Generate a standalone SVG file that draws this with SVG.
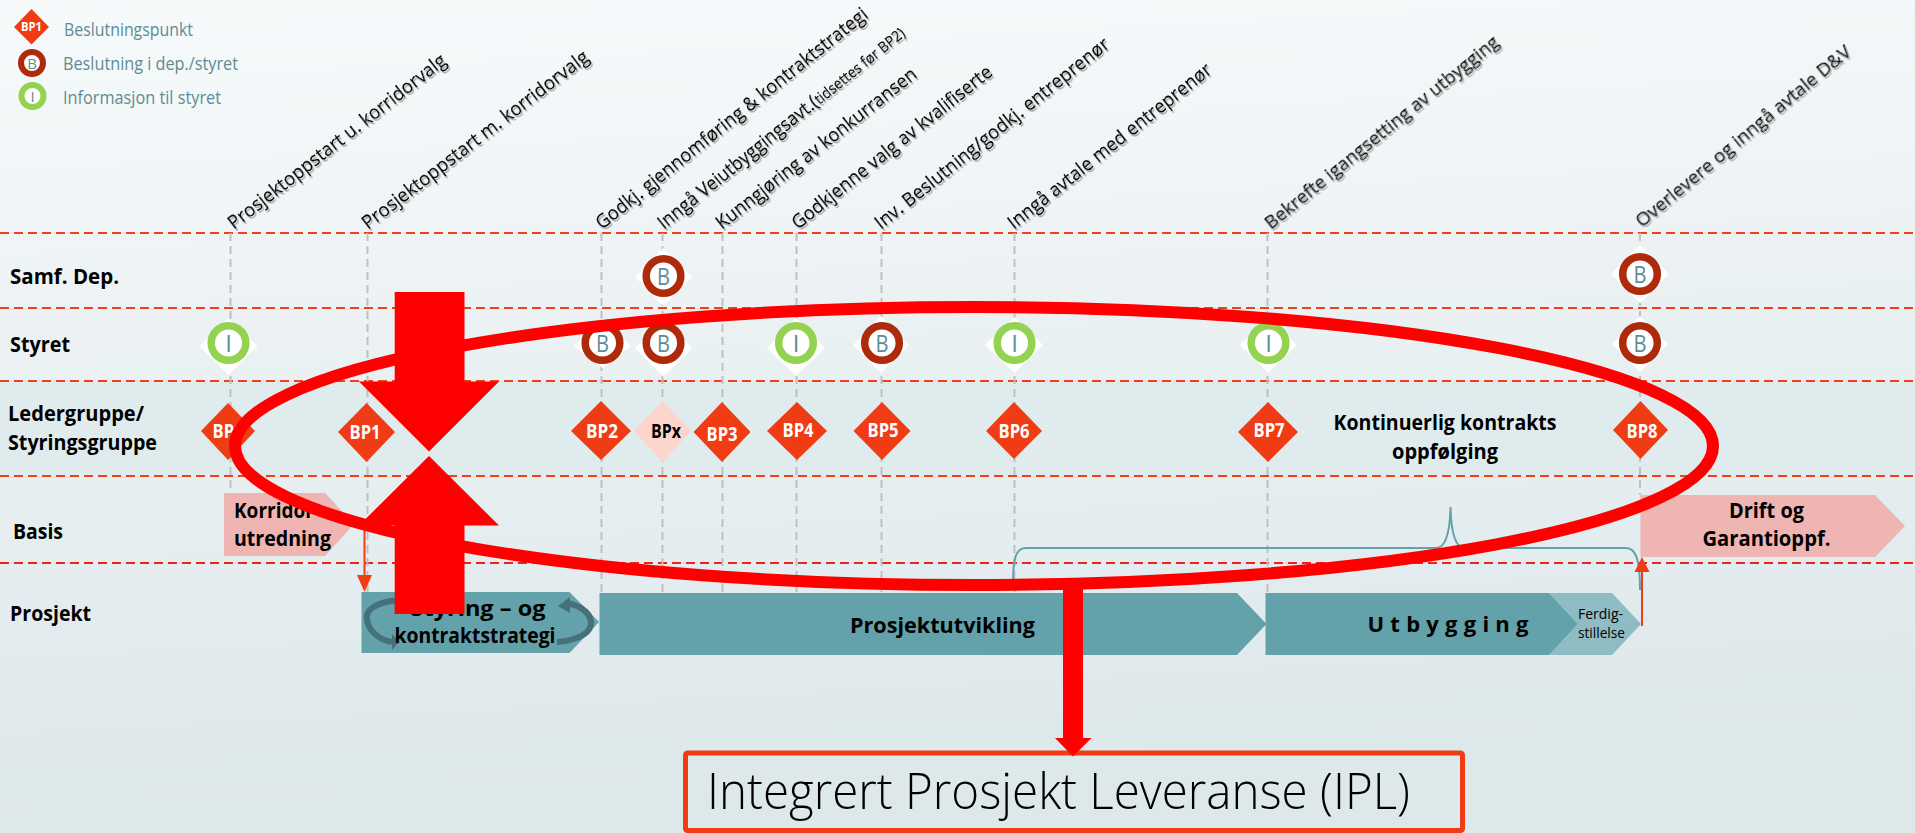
<svg xmlns="http://www.w3.org/2000/svg" width="1915" height="833" viewBox="0 0 1915 833">
<style>
text{font-family:"Open Sans","Noto Sans","Liberation Sans",sans-serif}
.leg{font-size:18px;fill:#5f8c94}
.row{font-size:21px;font-weight:700;fill:#000}
.head{font-size:19px;fill:#000;stroke:#000;stroke-width:0.2}
.bp{font-size:19px;font-weight:700;fill:#fff;text-anchor:middle}
.dia{fill:#f03c14}
.wd{fill:#fff}
.rb{fill:#fff;stroke:#ad2a0a;stroke-width:7.5}
.ri{fill:#fff;stroke:#94d251;stroke-width:7.5}
.ct{font-size:24px;fill:#5f8c94;text-anchor:middle}
.lab{font-size:22px;font-weight:700;fill:#000;text-anchor:middle}
.pink{fill:#eeb5b2}
.teal{fill:#63a2aa}
.h{stroke:#f0401a;stroke-width:2;stroke-dasharray:9 5;fill:none}
.v{stroke:#c0c0c0;stroke-width:2;stroke-dasharray:8 5;fill:none}
.red{fill:#ff0000}
</style>
<defs>
<linearGradient id="bg" x1="0" y1="0" x2="0.12" y2="1">
<stop offset="0" stop-color="#f6fafb"/><stop offset="0.3" stop-color="#eff4f6"/><stop offset="0.6" stop-color="#e6eef0"/><stop offset="1" stop-color="#dde8ea"/>
</linearGradient>
<filter id="sh" x="-2%" y="-5%" width="104%" height="110%"><feDropShadow dx="1.5" dy="2" stdDeviation="0.4" flood-color="#aaa"/></filter>
</defs>
<rect width="1915" height="833" fill="url(#bg)"/>
<rect x="0" y="381" width="1915" height="95" fill="#dfebed"/>

<g id="connectors">
<path class="h" d="M0,233H1915M0,308H1915M0,381H1915M0,476H1915"/>
<path class="h" d="M0,563H1915" style="stroke:#f0201a"/>
<path class="v" d="M230.500,233V493M367.500,233V592M601.500,233V593M662.500,233V593M722.500,233V593M796.500,233V593M881.500,233V593M1014.500,233V593M1267.500,233V593M1640,233V495"/>
<path d="M1013,585C1013,560 1015,548 1026,548L1436,548C1446,548 1450,530 1450.500,507C1451,530 1455,548 1465,548L1626,548C1636,548 1640,560 1640,590" fill="none" stroke="#63a2aa" stroke-width="2"/>
</g>

<g id="legend">
<polygon class="dia" points="31.500,9 49,27 31.500,44.500 14,27"/>
<text x="31.500" y="31" class="bp" style="font-size:12px" textLength="21" lengthAdjust="spacingAndGlyphs">BP1</text>
<text x="64" y="36" class="leg" textLength="129" lengthAdjust="spacingAndGlyphs">Beslutningspunkt</text>
<circle cx="32" cy="63" r="11" fill="#fff" stroke="#ad2a0a" stroke-width="6"/>
<text x="32" y="68.500" class="ct" style="font-size:15px">B</text>
<text x="63" y="70" class="leg" textLength="175" lengthAdjust="spacingAndGlyphs">Beslutning i dep./styret</text>
<circle cx="32.500" cy="96" r="11" fill="#fff" stroke="#94d251" stroke-width="6"/>
<text x="32.500" y="101.500" class="ct" style="font-size:15px">I</text>
<text x="63" y="104" class="leg" textLength="158" lengthAdjust="spacingAndGlyphs">Informasjon til styret</text>
</g>

<g id="headers" filter="url(#sh)">
<text class="head" transform="translate(234,230) rotate(-38)" textLength="271" lengthAdjust="spacingAndGlyphs">Prosjektoppstart u. korridorvalg</text>
<text class="head" transform="translate(368,230) rotate(-37.500)" textLength="280" lengthAdjust="spacingAndGlyphs">Prosjektoppstart m. korridorvalg</text>
<text class="head" transform="translate(602,230) rotate(-38.600)" textLength="342" lengthAdjust="spacingAndGlyphs">Godkj. gjennomføring &amp; kontraktstrategi</text>
<text class="head" transform="translate(664,230) rotate(-38.800) scale(0.93,1)">Inngå Veiutbyggingsavt.(<tspan style="font-size:15px">tidsettes før BP2)</tspan></text>
<text class="head" transform="translate(722,230) rotate(-38)" textLength="249" lengthAdjust="spacingAndGlyphs">Kunngjøring av konkurransen</text>
<text class="head" transform="translate(798,230) rotate(-38.500)" textLength="250" lengthAdjust="spacingAndGlyphs">Godkjenne valg av kvalifiserte</text>
<text class="head" transform="translate(881,230) rotate(-38.600)" textLength="294" lengthAdjust="spacingAndGlyphs">Inv. Beslutning/godkj. entreprenør</text>
<text class="head" transform="translate(1014,230) rotate(-38.400)" textLength="254" lengthAdjust="spacingAndGlyphs">Inngå avtale med entreprenør</text>
<text class="head" transform="translate(1271,230) rotate(-39)" textLength="295" lengthAdjust="spacingAndGlyphs">Bekrefte igangsetting av utbygging</text>
<text class="head" transform="translate(1642,228) rotate(-39.600)" textLength="273" lengthAdjust="spacingAndGlyphs">Overlevere og inngå avtale D&amp;V</text>
</g>

<g id="rows">
<text class="row" x="10" y="284" textLength="109" lengthAdjust="spacingAndGlyphs">Samf. Dep.</text>
<text class="row" x="10" y="352" textLength="60" lengthAdjust="spacingAndGlyphs">Styret</text>
<text class="row" x="8" y="421" textLength="136" lengthAdjust="spacingAndGlyphs">Ledergruppe/</text>
<text class="row" x="8" y="450" textLength="149" lengthAdjust="spacingAndGlyphs">Styringsgruppe</text>
<text class="row" x="13" y="539" textLength="50" lengthAdjust="spacingAndGlyphs">Basis</text>
<text class="row" x="10" y="621" textLength="81" lengthAdjust="spacingAndGlyphs">Prosjekt</text>
</g>

<g id="n-samf-b1"><polygon class="wd" points="663.500,248 692,277 663.500,306 635,277"/><circle class="rb" cx="663.500" cy="276" r="17.300"/><text class="ct" x="663.500" y="285" textLength="13" lengthAdjust="spacingAndGlyphs">B</text></g>
<g id="n-samf-b2"><polygon class="wd" points="1640,245 1669,274 1640,303 1611,274"/><circle class="rb" cx="1640" cy="274" r="17.300"/><text class="ct" x="1640" y="283" textLength="13" lengthAdjust="spacingAndGlyphs">B</text></g>

<g id="n-sty-i0"><polygon class="wd" points="228.500,318 257.500,346 228.500,375 199.500,346"/><circle class="ri" cx="228.500" cy="343" r="17.300"/><text class="ct" x="228.500" y="352">I</text></g>
<g id="n-sty-b2"><polygon class="wd" points="602.500,318 631,346 602.500,368 574,346"/><circle class="rb" cx="602.500" cy="343" r="17.300"/><text class="ct" x="602.500" y="352" textLength="13" lengthAdjust="spacingAndGlyphs">B</text></g>
<g id="n-sty-bx"><polygon class="wd" points="663.500,318 692,348 663.500,377 635,348"/><circle class="rb" cx="663.500" cy="343" r="17.300"/><text class="ct" x="663.500" y="352" textLength="13" lengthAdjust="spacingAndGlyphs">B</text></g>
<g id="n-sty-i4"><polygon class="wd" points="796,318 825,348 796,376 767,348"/><circle class="ri" cx="796" cy="343" r="17.300"/><text class="ct" x="796" y="352">I</text></g>
<g id="n-sty-b5"><polygon class="wd" points="881,316 909,345 881,373 853,345"/><circle class="rb" cx="882" cy="343" r="17.300"/><text class="ct" x="882" y="352" textLength="13" lengthAdjust="spacingAndGlyphs">B</text></g>
<g id="n-sty-i6"><polygon class="wd" points="1014.500,317 1043,345 1014.500,373 985,345"/><circle class="ri" cx="1014.500" cy="343" r="17.300"/><text class="ct" x="1014.500" y="352">I</text></g>
<g id="n-sty-i7"><polygon class="wd" points="1268.500,317 1297,345 1268.500,373 1240,345"/><circle class="ri" cx="1268.500" cy="343" r="17.300"/><text class="ct" x="1268.500" y="352">I</text></g>
<g id="n-sty-b8"><polygon class="wd" points="1640,316 1668,344 1640,372 1612,344"/><circle class="rb" cx="1640" cy="343" r="17.300"/><text class="ct" x="1640" y="352" textLength="13" lengthAdjust="spacingAndGlyphs">B</text></g>

<g id="n-bp0"><polygon class="dia" points="228,403 255,431 228,460 201,431"/><text class="bp" x="228" y="438" textLength="31" lengthAdjust="spacingAndGlyphs">BP0</text></g>
<g id="n-bp1"><polygon class="dia" points="366.500,403 395,432 366.500,462 338,432"/><text class="bp" x="365" y="439" textLength="31" lengthAdjust="spacingAndGlyphs">BP1</text></g>
<g id="n-bp2"><polygon class="dia" points="601,401 631,431 601,460 571,431"/><text class="bp" x="602" y="437.500" textLength="32" lengthAdjust="spacingAndGlyphs">BP2</text></g>
<g id="n-bpx"><polygon points="662.500,401 691,431 662.500,462 634,431" fill="#fcd5cd"/><text class="bp" x="666" y="438" style="fill:#000" textLength="30" lengthAdjust="spacingAndGlyphs">BPx</text></g>
<g id="n-bp3"><polygon class="dia" points="722,402 750.500,432 722,462 693.500,432"/><text class="bp" x="722" y="441" textLength="31" lengthAdjust="spacingAndGlyphs">BP3</text></g>
<g id="n-bp4"><polygon class="dia" points="797,402 827,431 797,460 767,431"/><text class="bp" x="798" y="437" textLength="31" lengthAdjust="spacingAndGlyphs">BP4</text></g>
<g id="n-bp5"><polygon class="dia" points="882,402 910.500,431 882,460 853.500,431"/><text class="bp" x="883" y="437" textLength="31" lengthAdjust="spacingAndGlyphs">BP5</text></g>
<g id="n-bp6"><polygon class="dia" points="1014,402 1042,431 1014,459 986,431"/><text class="bp" x="1014" y="438" textLength="31" lengthAdjust="spacingAndGlyphs">BP6</text></g>
<g id="n-bp7"><polygon class="dia" points="1268,402 1298,432 1268,462 1238,432"/><text class="bp" x="1269" y="437" textLength="31" lengthAdjust="spacingAndGlyphs">BP7</text></g>
<g id="n-bp8"><polygon class="dia" points="1640.500,401 1668,430 1640.500,459 1613,430"/><text class="bp" x="1642" y="438" textLength="31" lengthAdjust="spacingAndGlyphs">BP8</text></g>

<g id="n-kontinuerlig"><text class="lab" x="1445" y="430" textLength="223" lengthAdjust="spacingAndGlyphs">Kontinuerlig kontrakts</text><text class="lab" x="1445" y="459" textLength="106" lengthAdjust="spacingAndGlyphs">oppfølging</text></g>

<g id="n-korridor"><polygon class="pink" points="224,493 325,493 354,524 325,556 224,556"/><text class="row" x="234" y="518" textLength="86" lengthAdjust="spacingAndGlyphs">Korridor-</text><text class="row" x="234" y="546" textLength="97" lengthAdjust="spacingAndGlyphs">utredning</text></g>
<g id="n-drift"><polygon class="pink" points="1640.500,495 1875,495 1905,526 1875,557 1640.500,557"/><text class="lab" x="1766.500" y="518" textLength="75" lengthAdjust="spacingAndGlyphs">Drift og</text><text class="lab" x="1766.500" y="546" textLength="128" lengthAdjust="spacingAndGlyphs">Garantioppf.</text></g>

<g id="n-styring">
<polygon class="teal" points="361.500,592 569.500,592 599,622 569.500,653 361.500,653"/>
<path d="M400,600C375,602 365,610 367,620C369,632 380,640 392,642" fill="none" stroke="#46707a" stroke-width="6"/>
<polygon points="392,634 399,642 392,650" fill="#46707a"/>
<path d="M557,642C580,640 592,632 591,622C590,610 575,604 566,603" fill="none" stroke="#46707a" stroke-width="6"/>
<polygon points="558,606 570,597 570,613" fill="#46707a"/>
<text class="lab" x="478" y="616" textLength="135" lengthAdjust="spacingAndGlyphs">Styring – og</text>
<text class="lab" x="475" y="643" textLength="161" lengthAdjust="spacingAndGlyphs">kontraktstrategi</text>
</g>
<g id="n-prosjektutvikling"><polygon class="teal" points="599.500,593 1237,593 1266.500,624 1237,655 599.500,655"/><text class="lab" x="942.500" y="633" textLength="185" lengthAdjust="spacingAndGlyphs">Prosjektutvikling</text></g>
<g id="n-ferdig"><polygon points="1549,593 1612,593 1641,624 1612,655 1549,655 1578,624" fill="#8fbcc2"/><text x="1578" y="619" style="font-size:14px" fill="#000" textLength="45" lengthAdjust="spacingAndGlyphs">Ferdig-</text><text x="1578" y="638" style="font-size:14px" fill="#000" textLength="47" lengthAdjust="spacingAndGlyphs">stillelse</text></g>
<g id="n-utbygging"><polygon class="teal" points="1265.500,593 1549,593 1578,624 1549,655 1265.500,655"/><text class="lab" x="1448" y="632" textLength="161">U t b y g g i n g</text></g>

<g id="orange-arrows">
<path d="M364.500,525V577" stroke="#f03c14" stroke-width="2" fill="none"/>
<polygon points="357,575 372,575 364.500,592" fill="#f03c14"/>
<path d="M1642,626V570" stroke="#f03c14" stroke-width="2" fill="none"/>
<polygon points="1634.500,572 1649.500,572 1642,557" fill="#f03c14"/>
</g>

<g id="n-ipl"><rect x="685.500" y="753" width="777" height="77.500" rx="2" fill="none" stroke="#f03c14" stroke-width="5"/><text x="707" y="809" style="font-size:50px;font-weight:300" fill="#000" textLength="703" lengthAdjust="spacingAndGlyphs">Integrert Prosjekt Leveranse (IPL)</text></g>

<g id="overlay">
<ellipse cx="974" cy="446" rx="739" ry="139" fill="none" stroke="#ff0000" stroke-width="12"/>
<polygon class="red" points="394.700,292 464.500,292 464.500,381.500 499,381.500 429,451.500 359,381.500 394.700,381.500"/>
<polygon class="red" points="429,456 499,525.500 464.500,525.500 464.500,614 394.700,614 394.700,525.500 359,525.500"/>
<polygon class="red" points="1063,585 1083,585 1083,738 1091.500,738 1073,756.500 1055,738 1063,738"/>
</g>
</svg>
